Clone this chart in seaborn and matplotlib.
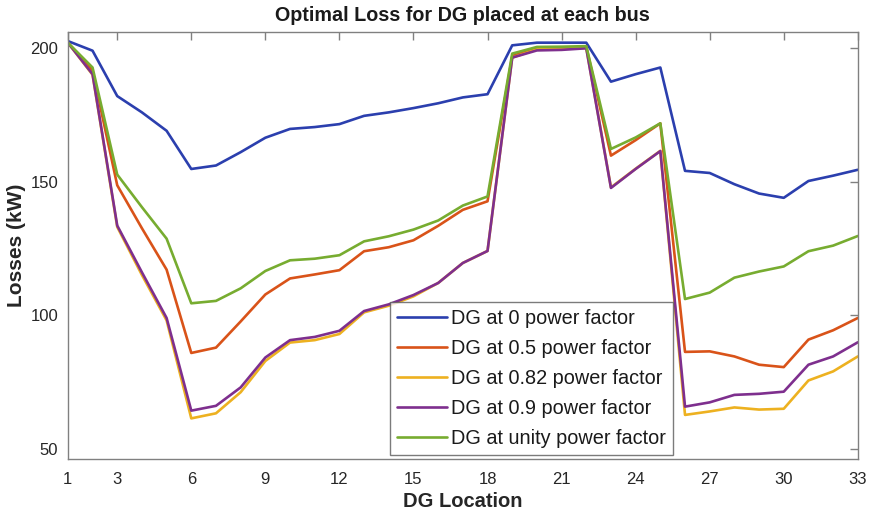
import numpy as np
import pandas as pd
import matplotlib
matplotlib.use("Agg")
import matplotlib.pyplot as plt
import seaborn as sns

# ---- data ----
bus = list(range(1, 34))
series_names = ["DG at 0 power factor", "DG at 0.5 power factor", "DG at 0.82 power factor",
                "DG at 0.9 power factor", "DG at unity power factor"]
loss_pf0 = [202.6, 199, 182, 175.9, 169, 154.7, 156, 161, 166.4, 169.7, 170.4, 171.5, 174.6,
            175.9, 177.5, 179.3, 181.5, 182.7, 201, 202, 202, 202, 187.4, 190.2, 192.7, 154,
            153.2, 149, 145.5, 143.9, 150.2, 152.2, 154.4]
loss_pf05 = [202, 191.5, 148.6, 132.5, 117, 85.8, 87.8, 97.6, 107.7, 113.7, 115.2, 116.8, 123.9,
             125.4, 128, 133.4, 139.4, 142.6, 197, 200, 200, 200.5, 159.7, 165.5, 171.8, 86.2,
             86.4, 84.5, 81.4, 80.5, 90.8, 94.3, 98.9]
loss_pf082 = [202, 190, 133, 115, 98, 61.3, 63.2, 71.1, 82.8, 89.7, 90.6, 92.9, 101, 103.5, 107,
              112, 119.5, 124, 196.4, 199.5, 199.7, 200, 147.8, 154.8, 161.5, 62.6, 63.9, 65.4,
              64.6, 64.9, 75.5, 78.9, 84.5]
loss_pf09 = [202, 190.2, 133.5, 116, 98.9, 64.2, 66, 72.9, 84.1, 90.6, 91.8, 94.1, 101.5, 104,
             107.5, 112, 119.5, 124, 196.4, 199.1, 199.3, 199.9, 147.6, 154.7, 161.4, 65.7, 67.3,
             70.1, 70.5, 71.3, 81.4, 84.5, 89.8]
loss_unity = [202, 192.7, 152.6, 140.4, 128.6, 104.4, 105.3, 110, 116.5, 120.5, 121.1, 122.4,
              127.6, 129.5, 132, 135.4, 141, 144.4, 197.9, 200.4, 200.5, 200.7, 162.2, 166.5,
              171.8, 106, 108.4, 114, 116.3, 118.2, 123.9, 126, 129.6]
x_ticks = [1, 3, 6, 9, 12, 15, 18, 21, 24, 27, 30, 33]
y_ticks = [50, 100, 150, 200]

colors = ["#2b3fae", "#D95319", "#EDB120", "#7E2F8E", "#77AC30"]

df = pd.concat([
    pd.DataFrame({"bus": bus, "loss": vals, "series": name})
    for name, vals in zip(series_names, [loss_pf0, loss_pf05, loss_pf082, loss_pf09, loss_unity])
], ignore_index=True)

sns.set_theme(style="white")
plt.rcParams["font.family"] = ["Liberation Sans", "DejaVu Sans"]

fig = plt.figure(figsize=(8.7, 5.16), dpi=100)
ax = fig.add_axes([0.078, 0.110, 0.908, 0.828])

sns.lineplot(data=df, x="bus", y="loss", hue="series", hue_order=series_names,
             palette=dict(zip(series_names, colors)), linewidth=1.9, ax=ax, legend=True)

ax.set_xlim(1, 33)
ax.set_ylim(46, 206)
ax.set_xticks(x_ticks)
ax.set_yticks(y_ticks)
ax.tick_params(direction="in", top=True, right=True, length=5.5, width=1, colors="#808080",
               labelcolor="#262626", labelsize=12, pad=7)
ax.tick_params(axis="x", pad=9)
for s in ax.spines.values():
    s.set_color("#808080")
    s.set_linewidth(1.0)

ax.set_title("Optimal Loss for DG placed at each bus", fontsize=14.2, fontweight="bold",
             color="#1a1a1a", pad=8)
ax.set_xlabel("DG Location", fontsize=14.5, fontweight="bold", color="#262626", labelpad=4)
ax.set_ylabel("Losses (kW)", fontsize=15, fontweight="bold", color="#262626", labelpad=3)

leg = ax.get_legend()
if leg is not None:
    leg.remove()
lines = ax.get_lines()[:5]
lg = ax.legend(lines, series_names, loc="lower left", bbox_to_anchor=(0.408, 0.01),
               borderaxespad=0, fontsize=14.3, frameon=True, fancybox=False,
               handlelength=2.5, labelspacing=0.55, handletextpad=0.2, borderpad=0.35)
lg.get_frame().set_edgecolor("#5a5a5a")
lg.get_frame().set_linewidth(1.0)
for t in lg.get_texts():
    t.set_color("#1a1a1a")

fig.savefig("out.png", dpi=100)
